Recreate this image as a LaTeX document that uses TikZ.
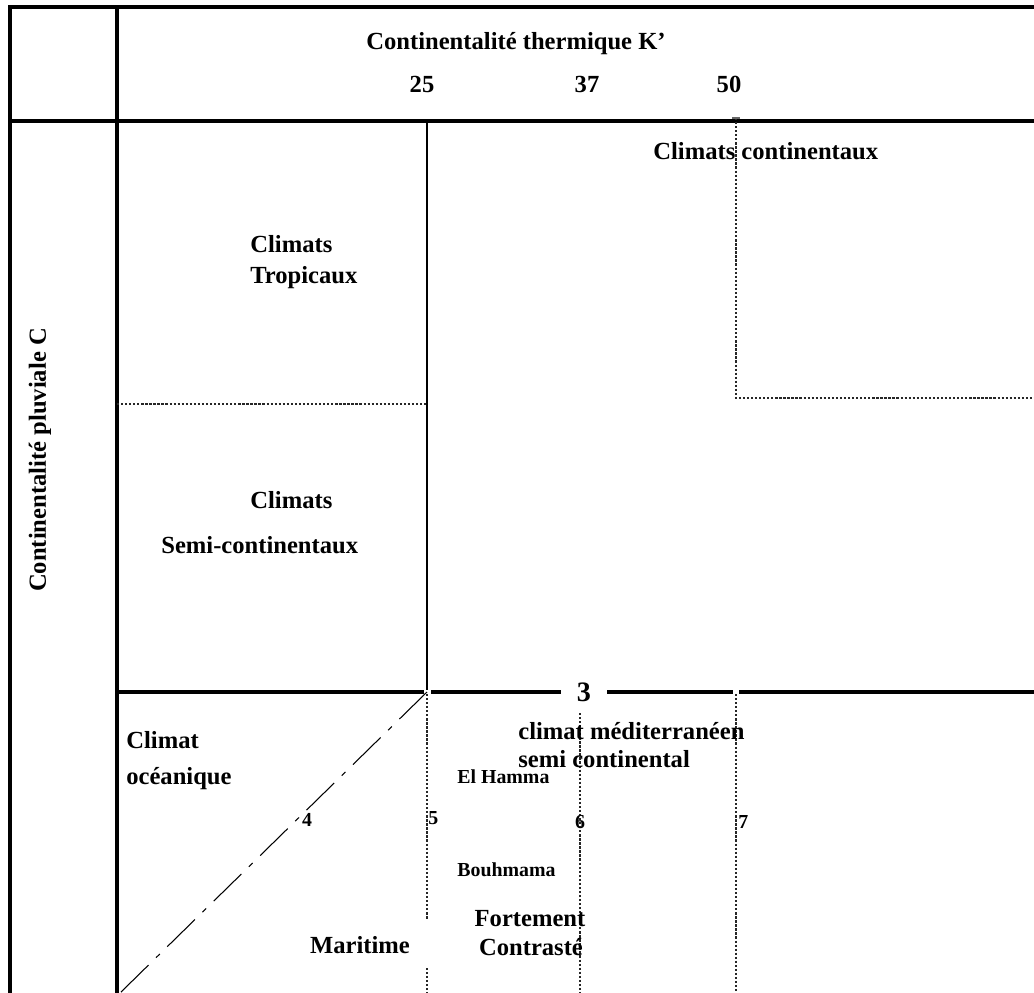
\documentclass[tikz,border=0pt]{standalone}
\usepackage{fontspec}
\setmainfont{Liberation Serif}
\usetikzlibrary{positioning}

\begin{document}
\begin{tikzpicture}[x=0.02cm, y=-0.02cm,
    frameline/.style={line width=2pt},
    boundline/.style={line width=2.4pt},
    zoneline/.style={line width=1.2pt},
    dotline/.style={line width=1.3pt, densely dotted, black!85},
    diagline/.style={line width=0.6pt, dash pattern=on 22pt off 6pt on 3pt off 6pt},
    lbl/.style={font=\fontsize{14}{17}\selectfont\bfseries, inner sep=0pt},
    smalllbl/.style={font=\fontsize{11.3}{13}\selectfont\bfseries, inner sep=0pt}]

    % Canvas
    \useasboundingbox (0,0) rectangle (1034,993);

    % Table frame
    \draw[frameline] (10,993) -- (10,7) -- (1034,7);
    \draw[frameline] (117,7) -- (117,993);
    \draw[frameline] (10,121) -- (1034,121);

    % Axis labels
    \node[lbl, anchor=base] (ktitle) at (516,50) {Continentalité thermique K’};
    \node[lbl, anchor=base] (k25) at (422,93) {25};
    \node[lbl, anchor=base] (k37) at (587,93) {37};
    \node[lbl, anchor=base] (k50) at (729,93) {50};
    \node[lbl, rotate=90] (ctitle) at (40,460) {Continentalité pluviale C};

    % Zone limits
    \draw[zoneline] (427,121) -- (427,690);
    \draw[dotline] (117,404) -- (427,404);
    \draw[dotline] (736,118) -- (736,398) -- (1034,398);
    \draw[line width=1pt, black!60] (732,118) -- (740,118);

    % Limit C = 3
    \node[font=\fontsize{16}{18}\selectfont\bfseries, inner xsep=9pt, inner ysep=0pt] (c3) at (584,692) {3};
    \draw[boundline] (117,692) -- (424,692);
    \draw[boundline] (431,692) -- (c3.west);
    \draw[boundline] (c3.east) -- (733,692);
    \draw[boundline] (739,692) -- (1034,692);

    % Mediterranean sub-zones
    \draw[dotline] (427,694) -- (427,920);
    \draw[dotline] (427,968) -- (427,993);
    \draw[dotline] (580,713) -- (580,993);
    \draw[dotline] (736,694) -- (736,993);
    \draw[diagline] (427,692) -- (120,993);

    % Climate names
    \node[lbl, anchor=base west] (cont) at (653,160) {Climats continentaux};
    \node[lbl, anchor=base west] (trop1) at (250,253) {Climats};
    \node[lbl, anchor=base west] (trop2) at (250,283) {Tropicaux};
    \node[lbl, anchor=base west] (semi1) at (250,508) {Climats};
    \node[lbl, anchor=base west] (semi2) at (161,553) {Semi-continentaux};
    \node[lbl, anchor=base west] (ocean1) at (126,748) {Climat};
    \node[lbl, anchor=base west] (ocean2) at (126,784) {océanique};
    \node[lbl, anchor=base west] (medit1) at (518,739) {climat méditerranéen};
    \node[lbl, anchor=base west] (medit2) at (518,767) {semi continental};
    \node[lbl, anchor=base] (marit) at (360,953) {Maritime};
    \node[lbl, anchor=base] (fort1) at (530,926) {Fortement};
    \node[lbl, anchor=base] (fort2) at (531,955) {Contrasté};

    % Stations and indices
    \node[smalllbl, anchor=base west] (hamma) at (457,783) {El Hamma};
    \node[smalllbl, anchor=base west] (bouh) at (457,876) {Bouhmama};
    \node[smalllbl, anchor=base] (i4) at (307,826) {4};
    \node[smalllbl, anchor=base west] (i5) at (428,824) {5};
    \node[smalllbl, anchor=base] (i6) at (580,828) {6};
    \node[smalllbl, anchor=base west] (i7) at (738,828) {7};

\end{tikzpicture}
\end{document}
